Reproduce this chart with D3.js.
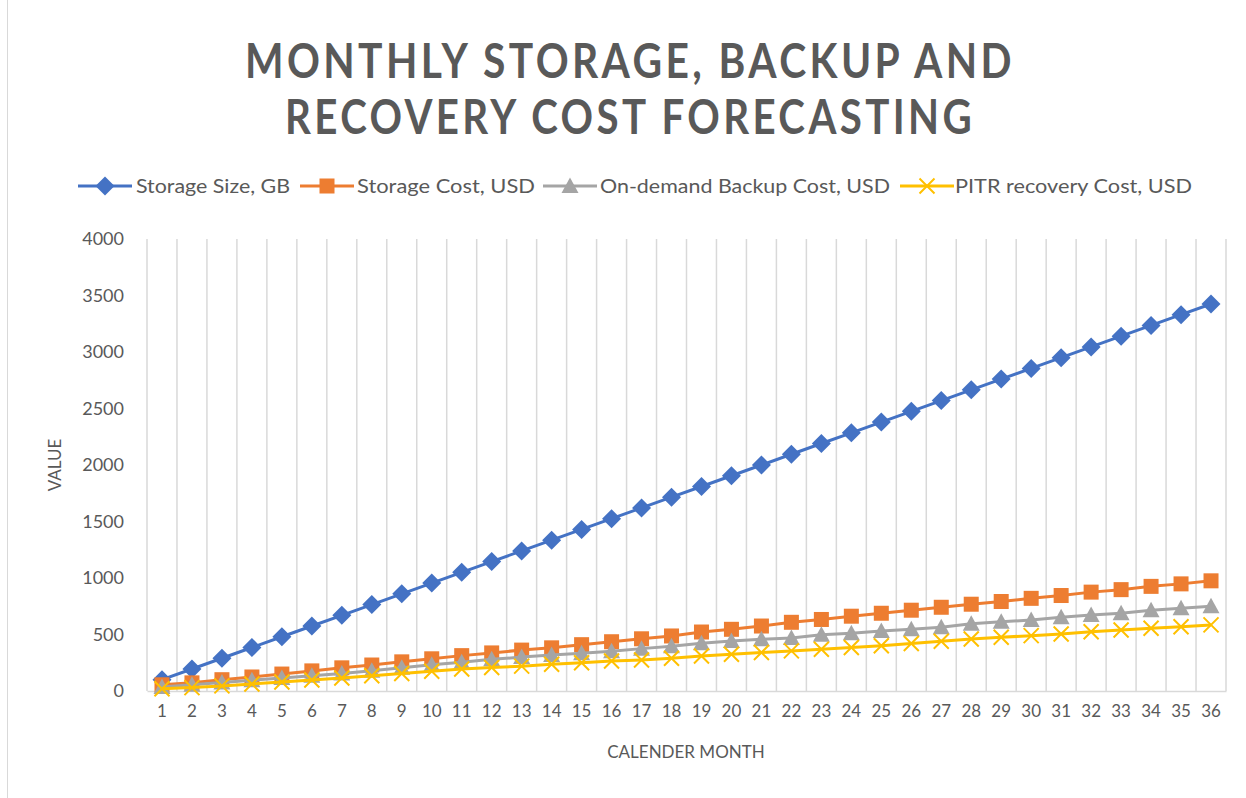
<!DOCTYPE html>
<html>
<head>
<meta charset="utf-8">
<script src="https://cdn.jsdelivr.net/npm/d3@7"></script>
<style>
  html, body { margin: 0; padding: 0; background: #ffffff; }
  svg { display: block; }
  text { font-family: Lato, "Open Sans", sans-serif; fill: #595959; }
</style>
</head>
<body>
<svg id="chart" width="1246" height="798"></svg>
<script>
// Forecast series, one value per calendar month
const months = d3.range(1, 37).map(String);
const storageSizeGB = [100,195,290,385,480,575,670,765,860,955,1050,1145,1240,1335,1430,1525,1620,1715,
  1810,1905,2000,2095,2190,2285,2380,2475,2570,2665,2760,2855,2950,3045,3140,3235,3330,3425];
const storageCostUSD = [55,72,100,124,150,178,205,230,258,285,313,337,362,382,410,436,462,487,
  522,546,575,608,633,662,688,715,741,768,792,820,845,875,897,926,948,975];
const backupCostUSD = [35,55,75,95,115,135,155,180,205,232,255,280,300,318,335,352,375,396,
  422,442,458,470,498,512,530,546,565,596,612,628,652,672,688,715,732,750];
const pitrCostUSD = [20,30,45,62,80,98,115,135,155,175,195,208,220,237,250,265,275,290,
  310,325,340,355,370,385,400,420,440,460,475,490,505,525,540,555,568,585];
const yTicks = [0,500,1000,1500,2000,2500,3000,3500,4000];
const titleLines = ["MONTHLY STORAGE, BACKUP AND", "RECOVERY COST FORECASTING"];

const series = [
  { name: "Storage Size, GB", values: storageSizeGB, color: "#4472C4", marker: "diamond" },
  { name: "Storage Cost, USD", values: storageCostUSD, color: "#ED7D31", marker: "square" },
  { name: "On-demand Backup Cost, USD", values: backupCostUSD, color: "#A5A5A5", marker: "triangle" },
  { name: "PITR recovery Cost, USD", values: pitrCostUSD, color: "#FFC000", marker: "x" }
];

const svg = d3.select("#chart");
const W = 1246, H = 798;
const plot = { left: 147, right: 1226, top: 239, bottom: 691 };

// left edge of the chart frame
svg.append("line")
  .attr("x1", 7.5).attr("x2", 7.5).attr("y1", 0).attr("y2", H)
  .attr("stroke", "#d9d9d9").attr("stroke-width", 1);

// title, letter-spaced across a fixed width
const titleSpans = [{ x1: 245, x2: 1015, y: 78 }, { x1: 285, x2: 975, y: 134 }];
titleLines.forEach((t, i) => {
  svg.append("text")
    .attr("x", titleSpans[i].x1).attr("y", titleSpans[i].y)
    .attr("textLength", titleSpans[i].x2 - titleSpans[i].x1)
    .attr("lengthAdjust", "spacingAndGlyphs")
    .style("font-size", "48px").style("font-weight", "bold")
    .style("letter-spacing", "4px")
    .style("fill", "#595959")
    .text(t);
});

// scales
const x = d3.scaleBand().domain(months).range([plot.left, plot.right]).padding(0);
const y = d3.scaleLinear().domain([0, 4000]).range([plot.bottom, plot.top]);
const cx = m => x(m) + x.bandwidth() / 2;

// vertical gridlines on category boundaries
const edges = months.map(m => x(m)).concat([plot.right]);
svg.append("g").selectAll("line").data(edges).join("line")
  .attr("x1", d => d).attr("x2", d => d)
  .attr("y1", plot.top).attr("y2", plot.bottom)
  .attr("stroke", "#d9d9d9").attr("stroke-width", 1.5);

// x axis
const xAxis = svg.append("g").attr("transform", `translate(0,${plot.bottom})`)
  .call(d3.axisBottom(x).tickSize(0).tickPadding(14));
xAxis.select(".domain").attr("stroke", "#d9d9d9").attr("stroke-width", 1.5);
xAxis.selectAll("text").style("font-size", "17px").style("fill", "#595959")
  .style("font-family", "Lato, sans-serif");

// y axis
const yAxis = svg.append("g").attr("transform", `translate(124,0)`)
  .call(d3.axisLeft(y).tickValues(yTicks).tickFormat(d3.format("d")).tickSize(0).tickPadding(0));
yAxis.select(".domain").remove();
yAxis.selectAll("text").style("font-size", "18px").style("fill", "#595959")
  .style("font-family", "Lato, sans-serif");

// axis titles
svg.append("text")
  .attr("transform", "translate(61,465) rotate(-90)")
  .attr("text-anchor", "middle")
  .style("font-size", "17px")
  .text("VALUE");
svg.append("text")
  .attr("x", 686).attr("y", 758)
  .attr("text-anchor", "middle")
  .style("font-size", "17px")
  .text("CALENDER MONTH");

// marker shapes
function drawMarker(g, type, px, py, color) {
  if (type === "diamond") {
    g.append("path").attr("d", `M${px},${py - 9.5}L${px + 9.5},${py}L${px},${py + 9.5}L${px - 9.5},${py}Z`)
      .attr("fill", color);
  } else if (type === "square") {
    g.append("rect").attr("x", px - 7.5).attr("y", py - 7.5).attr("width", 15).attr("height", 15)
      .attr("fill", color);
  } else if (type === "triangle") {
    g.append("path").attr("d", `M${px},${py - 8.5}L${px + 8.5},${py + 7}L${px - 8.5},${py + 7}Z`)
      .attr("fill", color);
  } else if (type === "x") {
    g.append("path").attr("d", `M${px - 7.5},${py - 7.5}L${px + 7.5},${py + 7.5}M${px - 7.5},${py + 7.5}L${px + 7.5},${py - 7.5}`)
      .attr("stroke", color).attr("stroke-width", 2).attr("fill", "none");
  }
}

// series lines and markers
const line = d3.line().x((d, i) => cx(months[i])).y(d => y(d));
series.forEach(s => {
  const g = svg.append("g");
  g.append("path").datum(s.values).attr("d", line)
    .attr("fill", "none").attr("stroke", s.color).attr("stroke-width", 3)
    .attr("stroke-linejoin", "round");
  s.values.forEach((v, i) => drawMarker(g, s.marker, cx(months[i]), y(v), s.color));
});

// legend
const legendItems = [
  { x1: 78, tx: 136, tw: 154 },
  { x1: 300, tx: 357, tw: 178 },
  { x1: 543, tx: 600, tw: 290 },
  { x1: 900, tx: 955, tw: 237 }
];
const ly = 186;
series.forEach((s, i) => {
  const it = legendItems[i];
  const g = svg.append("g");
  g.append("line").attr("x1", it.x1).attr("x2", it.x1 + 54).attr("y1", ly).attr("y2", ly)
    .attr("stroke", s.color).attr("stroke-width", 3);
  drawMarker(g, s.marker, it.x1 + 27, ly, s.color);
  g.append("text").attr("x", it.tx).attr("y", ly + 6.5)
    .attr("textLength", it.tw).attr("lengthAdjust", "spacingAndGlyphs")
    .style("font-size", "18.5px")
    .text(s.name);
});
</script>
</body>
</html>
